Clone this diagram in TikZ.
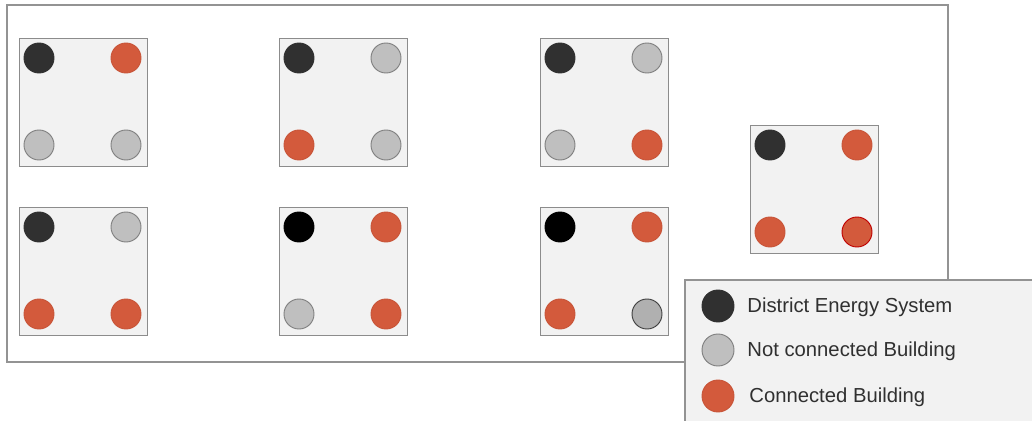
\documentclass[tikz,border=0pt]{standalone}
\usepackage{fontspec}
\setmainfont{Liberation Sans}
\usetikzlibrary{positioning}
\definecolor{desdark}{HTML}{303030}
\definecolor{offgray}{HTML}{BFBFBF}
\definecolor{onred}{HTML}{D35A3C}
\definecolor{boxgray}{HTML}{F2F2F2}
\tikzset{
  frameline/.style = {draw=gray!85,line width=0.8pt},
  plantbox/.style  = {draw=gray!90,fill=boxgray,line width=0.9pt,
                      minimum size=96pt,inner sep=0pt,anchor=north west},
  bldg/.style      = {circle,minimum size=22.5pt,inner sep=0pt,line width=0.7pt},
  des/.style       = {bldg,fill=desdark,draw=desdark},
  desblk/.style    = {bldg,fill=black,draw=black},
  off/.style       = {bldg,fill=offgray,draw=gray},
  offdk/.style     = {bldg,fill=offgray!92!black,draw=black!75},
  on/.style        = {bldg,fill=onred,draw=onred!95!black},
  onrim/.style     = {bldg,fill=onred,draw=red!75!black},
  legtext/.style   = {anchor=west,inner sep=0pt,text=desdark,
                      font=\fontsize{15.2}{17}\selectfont}
}
% #1 name, #2/#3 top left corner in px, #4..#7 styles tl tr bl br
\newcommand{\plant}[7]{%
  \node[plantbox] (#1) at (#2,#3) {};
  \node[#4] (#1-tl) at (#2+20,#3+20)  {};
  \node[#5] (#1-tr) at (#2+107,#3+20) {};
  \node[#6] (#1-bl) at (#2+20,#3+107) {};
  \node[#7] (#1-br) at (#2+107,#3+107) {};
}

\begin{document}
\begin{tikzpicture}[x=0.75pt,y=-0.75pt]
  \useasboundingbox (0,0) rectangle (1032,421);
  \clip (0,0) rectangle (1032,421);
  \draw[frameline] (7,5) rectangle (948,362);
  % upper row
  \plant{p1}{19}{38}{des}{on}{off}{off}
  \plant{p2}{279}{38}{des}{off}{on}{off}
  \plant{p3}{540}{38}{des}{off}{off}{on}
  % lower row
  \plant{p4}{19}{207}{des}{off}{on}{on}
  \plant{p5}{279}{207}{desblk}{on}{off}{on}
  \plant{p6}{540}{207}{desblk}{on}{on}{offdk}
  % right
  \plant{p7}{750}{125}{des}{on}{on}{onrim}
  % legend
  \draw[frameline,fill=boxgray] (685,280) rectangle (1045,430);
  \node[des,minimum size=24pt] (l1) at (718,306) {};
  \node[off,minimum size=24pt] (l2) at (718,350) {};
  \node[on,minimum size=24pt]  (l3) at (718,396) {};
  \node[legtext,right=9.5pt of l1,yshift=-1pt] (t1) {District Energy System};
  \node[legtext,right=9.5pt of l2,yshift=-1pt] (t2) {Not connected Building};
  \node[legtext,right=11pt of l3,yshift=-1pt]  (t3) {Connected Building};
\end{tikzpicture}
\end{document}
